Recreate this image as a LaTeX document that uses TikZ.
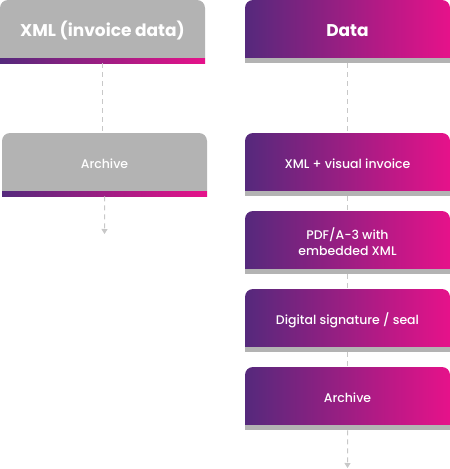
\documentclass[tikz,border=0pt]{standalone}
\usepackage{fontspec}
\setmainfont{Poppins}
\newfontfamily\medfont{Poppins}[UprightFont={* Medium}]
\usetikzlibrary{arrows.meta}
\definecolor{gpurple}{HTML}{55297C}
\definecolor{gpink}{HTML}{E6128A}
\definecolor{cardgray}{HTML}{B3B3B3}
\definecolor{linegray}{HTML}{C8C8C8}
\tikzset{
  cardtext/.style={text=white, font=\medfont\fontsize{12.5}{16}\selectfont, align=center, inner sep=0},
  headtext/.style={text=white, font=\bfseries\fontsize{17}{20}\selectfont, inner sep=0},
  gradfill/.style={left color=gpurple, right color=gpink},
  grayfill/.style={fill=cardgray},
  flow/.style={draw=linegray, line width=1pt, dash pattern=on 5pt off 4pt},
  flowend/.style={flow, -{Triangle[width=6pt,length=5pt]}},
}
% #1 name, #2 left x, #3 top y (px, downwards), #4 text, #5 body style, #6 stripe style, #7 text style
\newcommand{\cardbox}[7]{%
  \path[#5] (#2,-#3-58) -- (#2,-#3-8) arc[start angle=180,end angle=90,radius=8]
     -- (#2+197,-#3) arc[start angle=90,end angle=0,radius=8] -- (#2+205,-#3-58) -- cycle;
  \path[#6] (#2,-#3-58) rectangle (#2+205,-#3-63);
  \node[inner sep=0, minimum width=205, minimum height=63, anchor=north west] (#1) at (#2,-#3) {};
  \node[#7] (#1-t) at (#2+102.5,-#3-31) {#4};
}
\begin{document}
\begin{tikzpicture}[x=1pt,y=1pt]
\useasboundingbox (0,0) rectangle (450,-469);
% left column
\cardbox{lh}{0}{0}{XML (invoice data)}{grayfill}{gradfill}{headtext}
\cardbox{la}{2}{133}{Archive}{grayfill}{gradfill}{cardtext}
% right column
\cardbox{rh}{245}{0}{Data}{gradfill}{grayfill}{headtext}
\cardbox{r1}{245}{133}{XML + visual invoice}{gradfill}{grayfill}{cardtext}
\cardbox{r2}{245}{211}{PDF/A-3 with\\embedded XML}{gradfill}{grayfill}{cardtext}
\cardbox{r3}{245}{289}{Digital signature / seal}{gradfill}{grayfill}{cardtext}
\cardbox{r4}{245}{367}{Archive}{gradfill}{grayfill}{cardtext}
% connectors
\coordinate (lend) at (104.5,-234);
\coordinate (rend) at (347.5,-468);
\draw[flow] (lh.south) -- (lh.south |- la.north);
\draw[flowend] (la.south) -- (lend);
\draw[flow] (rh.south) -- (r1.north);
\draw[flow] (r1.south) -- (r2.north);
\draw[flow] (r2.south) -- (r3.north);
\draw[flow] (r3.south) -- (r4.north);
\draw[flowend] (r4.south) -- (rend);
\end{tikzpicture}
\end{document}
